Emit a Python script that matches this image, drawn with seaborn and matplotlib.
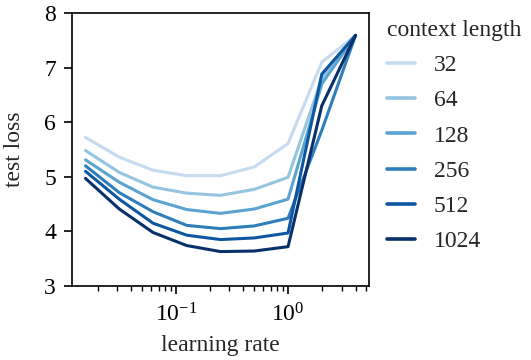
import numpy as np
import pandas as pd
import matplotlib
matplotlib.use("Agg")
import matplotlib.pyplot as plt
import seaborn as sns

learning_rates = [1/64, 1/32, 1/16, 1/8, 1/4, 1/2, 1, 2, 4]
context_lengths = [32, 64, 128, 256, 512, 1024]
loss_32 = [5.72, 5.36, 5.12, 5.02, 5.02, 5.18, 5.61, 7.10, 7.59]
loss_64 = [5.48, 5.08, 4.81, 4.70, 4.66, 4.77, 4.99, 6.80, 7.59]
loss_128 = [5.31, 4.90, 4.58, 4.40, 4.33, 4.41, 4.59, 6.70, 7.59]
loss_256 = [5.20, 4.71, 4.36, 4.11, 4.05, 4.10, 4.24, 5.85, 7.59]
loss_512 = [5.10, 4.59, 4.15, 3.93, 3.85, 3.88, 3.97, 6.88, 7.59]
loss_1024 = [4.97, 4.41, 3.98, 3.74, 3.63, 3.64, 3.72, 6.30, 7.59]

series = [loss_32, loss_64, loss_128, loss_256, loss_512, loss_1024]
rows = []
for cl, vals in zip(context_lengths, series):
    for lr, v in zip(learning_rates, vals):
        rows.append({"learning rate": lr, "test loss": v, "context length": cl})
df = pd.DataFrame(rows)

sns.set_style("ticks")
plt.rcParams["font.family"] = ["Liberation Serif", "DejaVu Serif"]
plt.rcParams["mathtext.fontset"] = "stix"
FS = 17

cmap = plt.get_cmap("Blues")
palette = [cmap(x) for x in np.linspace(0.25, 1.0, 6)]

fig = plt.figure(figsize=(5.31, 3.6), dpi=100)
ax = fig.add_axes([0.1356, 0.2056, 0.695 - 0.1356, 0.964 - 0.2056])
sns.lineplot(data=df, x="learning rate", y="test loss", hue="context length",
             palette=palette, linewidth=2.2, ax=ax, legend="full")
ax.set_xscale("log")
ax.set_ylim(3, 8)
ax.set_yticks([3, 4, 5, 6, 7, 8])
for s in ax.spines.values():
    s.set_linewidth(1.2)
    s.set_color("black")
ax.tick_params(axis="both", which="major", length=6, width=1.2, colors="black", labelsize=FS)
ax.tick_params(axis="x", which="major", pad=6.5)
ax.tick_params(axis="y", which="major", pad=5.5)
ax.tick_params(axis="x", which="minor", length=3.5, width=1.0, colors="black")
ax.set_xlabel("learning rate", fontsize=FS, labelpad=6)
ax.set_ylabel("test loss", fontsize=FS, labelpad=14)

handles, labels = ax.get_legend_handles_labels()
for h in handles:
    h.set_linewidth(2.6)
ax.legend(handles, [str(c) for c in context_lengths], title="context length",
          loc="upper left", bbox_to_anchor=(1.035, 1.0), frameon=False,
          fontsize=FS, title_fontsize=FS, labelspacing=0.58,
          handlelength=1.2, handletextpad=0.8, alignment="left",
          borderaxespad=0, borderpad=0.3)

fig.savefig("out.png", dpi=100)
